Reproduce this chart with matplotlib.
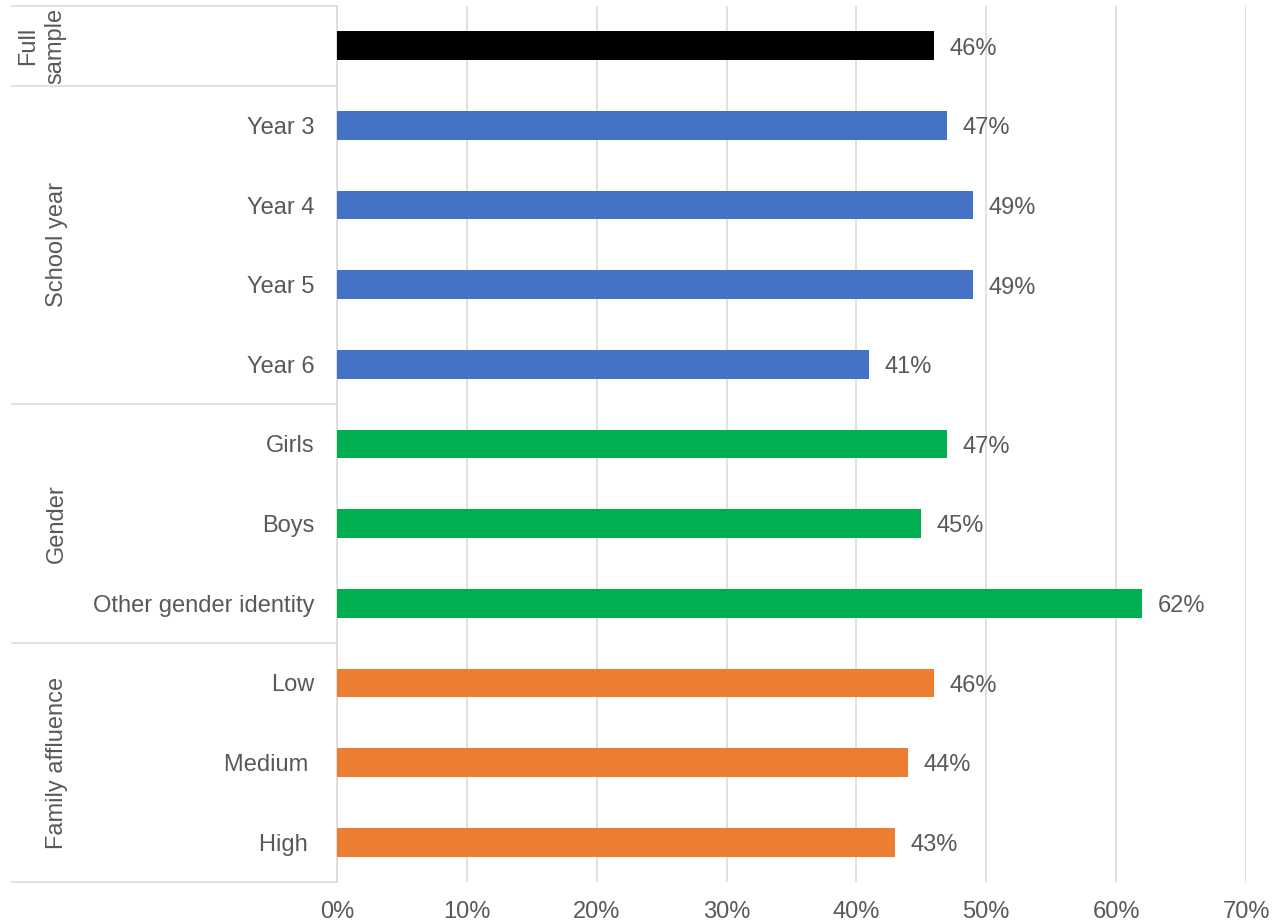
import matplotlib.pyplot as plt
import matplotlib.transforms as mtransforms
from matplotlib.ticker import FuncFormatter

plt.rcParams['font.family'] = ['Liberation Sans', 'DejaVu Sans']

categories = ['', 'Year 3', 'Year 4', 'Year 5', 'Year 6',
              'Girls', 'Boys', 'Other gender identity',
              'Low', 'Medium ', 'High ']
values = [46, 47, 49, 49, 41, 47, 45, 62, 46, 44, 43]
colors = ['#000000'] + ['#4472C4'] * 4 + ['#00B050'] * 3 + ['#ED7D31'] * 3
groups = ['Full\nsample', 'School year', 'Gender', 'Family affluence']
group_spans = [(0, 0), (1, 4), (5, 7), (8, 10)]

text_col = '#595959'
line_col = '#D9D9D9'

fig = plt.figure(figsize=(12.76, 9.22), dpi=100)
ax = fig.add_axes([337 / 1276, 1 - 882 / 922, 909 / 1276, 876 / 922])

ypos = list(range(len(categories)))
ax.barh(ypos, values, height=0.36, color=colors, zorder=3)
for y, v in zip(ypos, values):
    ax.annotate('%d%%' % v, (v, y), xytext=(11, -2), textcoords='offset points',
                va='center', ha='left', fontsize=17, color=text_col)

ax.set_xlim(0, 70)
ax.set_ylim(len(categories) - 0.5, -0.5)
ax.set_xticks(range(0, 71, 10))
ax.xaxis.set_major_formatter(FuncFormatter(lambda x, p: '%d%%' % x))
ax.set_yticks(ypos)
ax.set_yticklabels(categories)
ax.tick_params(axis='x', length=0, pad=13.5, labelsize=17, labelcolor=text_col)
ax.tick_params(axis='y', length=0, pad=16, labelsize=17, labelcolor=text_col)
ax.grid(axis='x', color=line_col, linewidth=1.1, zorder=0)
for s in ['top', 'right', 'bottom']:
    ax.spines[s].set_visible(False)
ax.spines['left'].set_color(line_col)
ax.spines['left'].set_linewidth(1.1)

# group separators and labels on the left
trans = mtransforms.blended_transform_factory(ax.transAxes, ax.transData)
x0 = (12 - 337) / 909
bounds = [-0.5, 0.5, 4.5, 7.5, 10.5]
for b in bounds:
    ax.plot([x0, 0], [b, b], color=line_col, linewidth=1.1,
            transform=trans, clip_on=False)
for name, (a, b) in zip(groups, group_spans):
    xl = (42 - 337) / 909 if '\n' in name else (57 - 337) / 909
    ax.text(xl, (a + b) / 2, name, rotation=90, transform=trans,
            ha='center', va='center', fontsize=17, color=text_col,
            linespacing=1.3)

fig.savefig('out.png', dpi=100)
